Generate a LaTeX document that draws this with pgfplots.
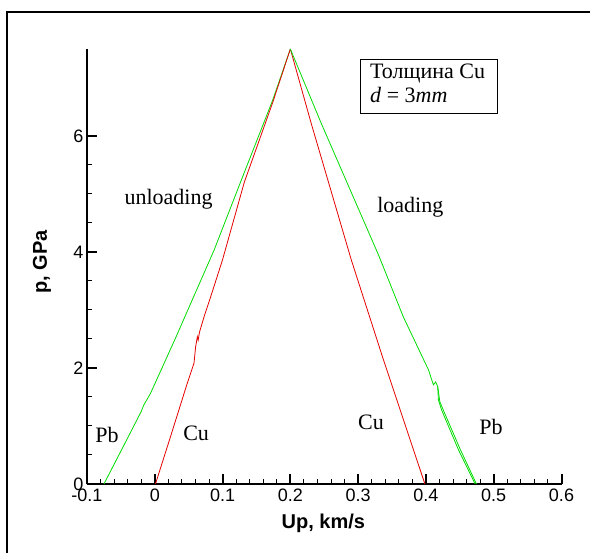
\documentclass[border=0pt]{standalone}
\usepackage{fontspec}
\setmainfont{Liberation Sans}
\newfontfamily\serif{Liberation Serif}
\usepackage{pgfplots}
\pgfplotsset{compat=1.18}
\definecolor{pgreen}{RGB}{0,220,0}
\definecolor{pred}{RGB}{230,0,0}
\begin{document}
\begin{tikzpicture}[x=1pt,y=1pt]
\useasboundingbox (0,0) rectangle (590,553);
\clip (0,0) rectangle (590,553);
\fill[white] (0,0) rectangle (590,553);
\draw[line width=2pt] (7,-20) -- (7,541) -- (620,541);
\begin{axis}[
  at={(87pt,69pt)}, anchor=south west,
  width=474.5pt, height=435pt, scale only axis,
  xmin=-0.1, xmax=0.6, ymin=0, ymax=7.5,
  clip=false,
  axis x line*=bottom, axis y line*=left,
  axis line style={line width=2pt, -},
  tick align=inside,
  xtick={-0.1,0,0.1,0.2,0.3,0.4,0.5,0.6},
  xticklabels={-0.1,0,0.1,0.2,0.3,0.4,0.5,0.6},
  ytick={0,2,4,6},
  minor x tick num=4, minor y tick num=3,
  major tick length=10pt, minor tick length=5pt,
  major tick style={line width=2pt,black},
  minor tick style={line width=1pt,black},
  /pgf/number format/assume math mode=true,
  ticklabel style={font=\fontsize{18}{18}\selectfont},
  xticklabel style={yshift=-1pt},
  xlabel={Up, km/s}, ylabel={p, GPa},
  label style={font=\fontsize{20}{20}\selectfont\bfseries},
  xlabel style={at={(axis description cs:0.498,-0.0897)}, anchor=center},
  ylabel style={at={(axis description cs:-0.0948,0.51)}, anchor=center},
]
% Pb unloading (green, left)
\addplot[pgreen, line width=0.8pt] coordinates {
(-0.075,0) (-0.045,0.68) (-0.02,1.25) (-0.0163,1.36) (-0.0064,1.56)
(0.03,2.5) (0.06,3.3) (0.0874,4.03) (0.127,5.22) (0.174,6.62) (0.2,7.5)};
% Cu unloading (red, left)
\addplot[pred, line width=0.8pt] coordinates {
(0.001,0) (0.0233,0.82) (0.048,1.74) (0.0578,2.08) (0.0603,2.37) (0.0628,2.54)
(0.064,2.48) (0.066,2.62) (0.0726,2.88) (0.0825,3.23) (0.0998,3.86)
(0.132,5.2) (0.174,6.58) (0.2,7.5)};
% Cu loading (red, right)
\addplot[pred, line width=0.8pt] coordinates {
(0.2,7.5) (0.2307,6.22) (0.29,3.86) (0.336,2.19) (0.3985,0)};
% Pb loading (green, right)
\addplot[pgreen, line width=0.8pt] coordinates {
(0.2,7.5) (0.2455,6.22) (0.33,3.95) (0.3667,2.88) (0.4037,1.97) (0.411,1.71)
(0.4144,1.76) (0.4174,1.68) (0.4184,1.45) (0.423,1.28) (0.448,0.59) (0.4726,0)};
\addplot[pgreen, line width=0.8pt] coordinates {
(0.4174,1.68) (0.4205,1.42) (0.4265,1.25) (0.4505,0.6) (0.4745,0)};
\node[font=\serif\fontsize{22}{22}\selectfont] at (axis cs:0.0203,4.91) {unloading};
\node[font=\serif\fontsize{22}{22}\selectfont] at (axis cs:0.377,4.78) {loading};
\node[font=\serif\fontsize{22}{22}\selectfont] at (axis cs:-0.0705,0.853) {Pb};
\node[font=\serif\fontsize{22}{22}\selectfont] at (axis cs:0.061,0.88) {Cu};
\node[font=\serif\fontsize{22}{22}\selectfont] at (axis cs:0.319,1.07) {Cu};
\node[font=\serif\fontsize{22}{22}\selectfont] at (axis cs:0.496,0.99) {Pb};
\end{axis}
\draw[line width=0.8pt] (360.3,493.7) rectangle (497.3,439.7);
\node[anchor=base west, inner sep=0pt, font=\serif\fontsize{22}{22}\selectfont] at (370,474) {Толщина Cu};
\node[anchor=base west, inner sep=0pt, font=\serif\fontsize{22}{22}\selectfont] at (370,450.3) {\textit{d} = 3\textit{mm}};
\end{tikzpicture}
\end{document}
